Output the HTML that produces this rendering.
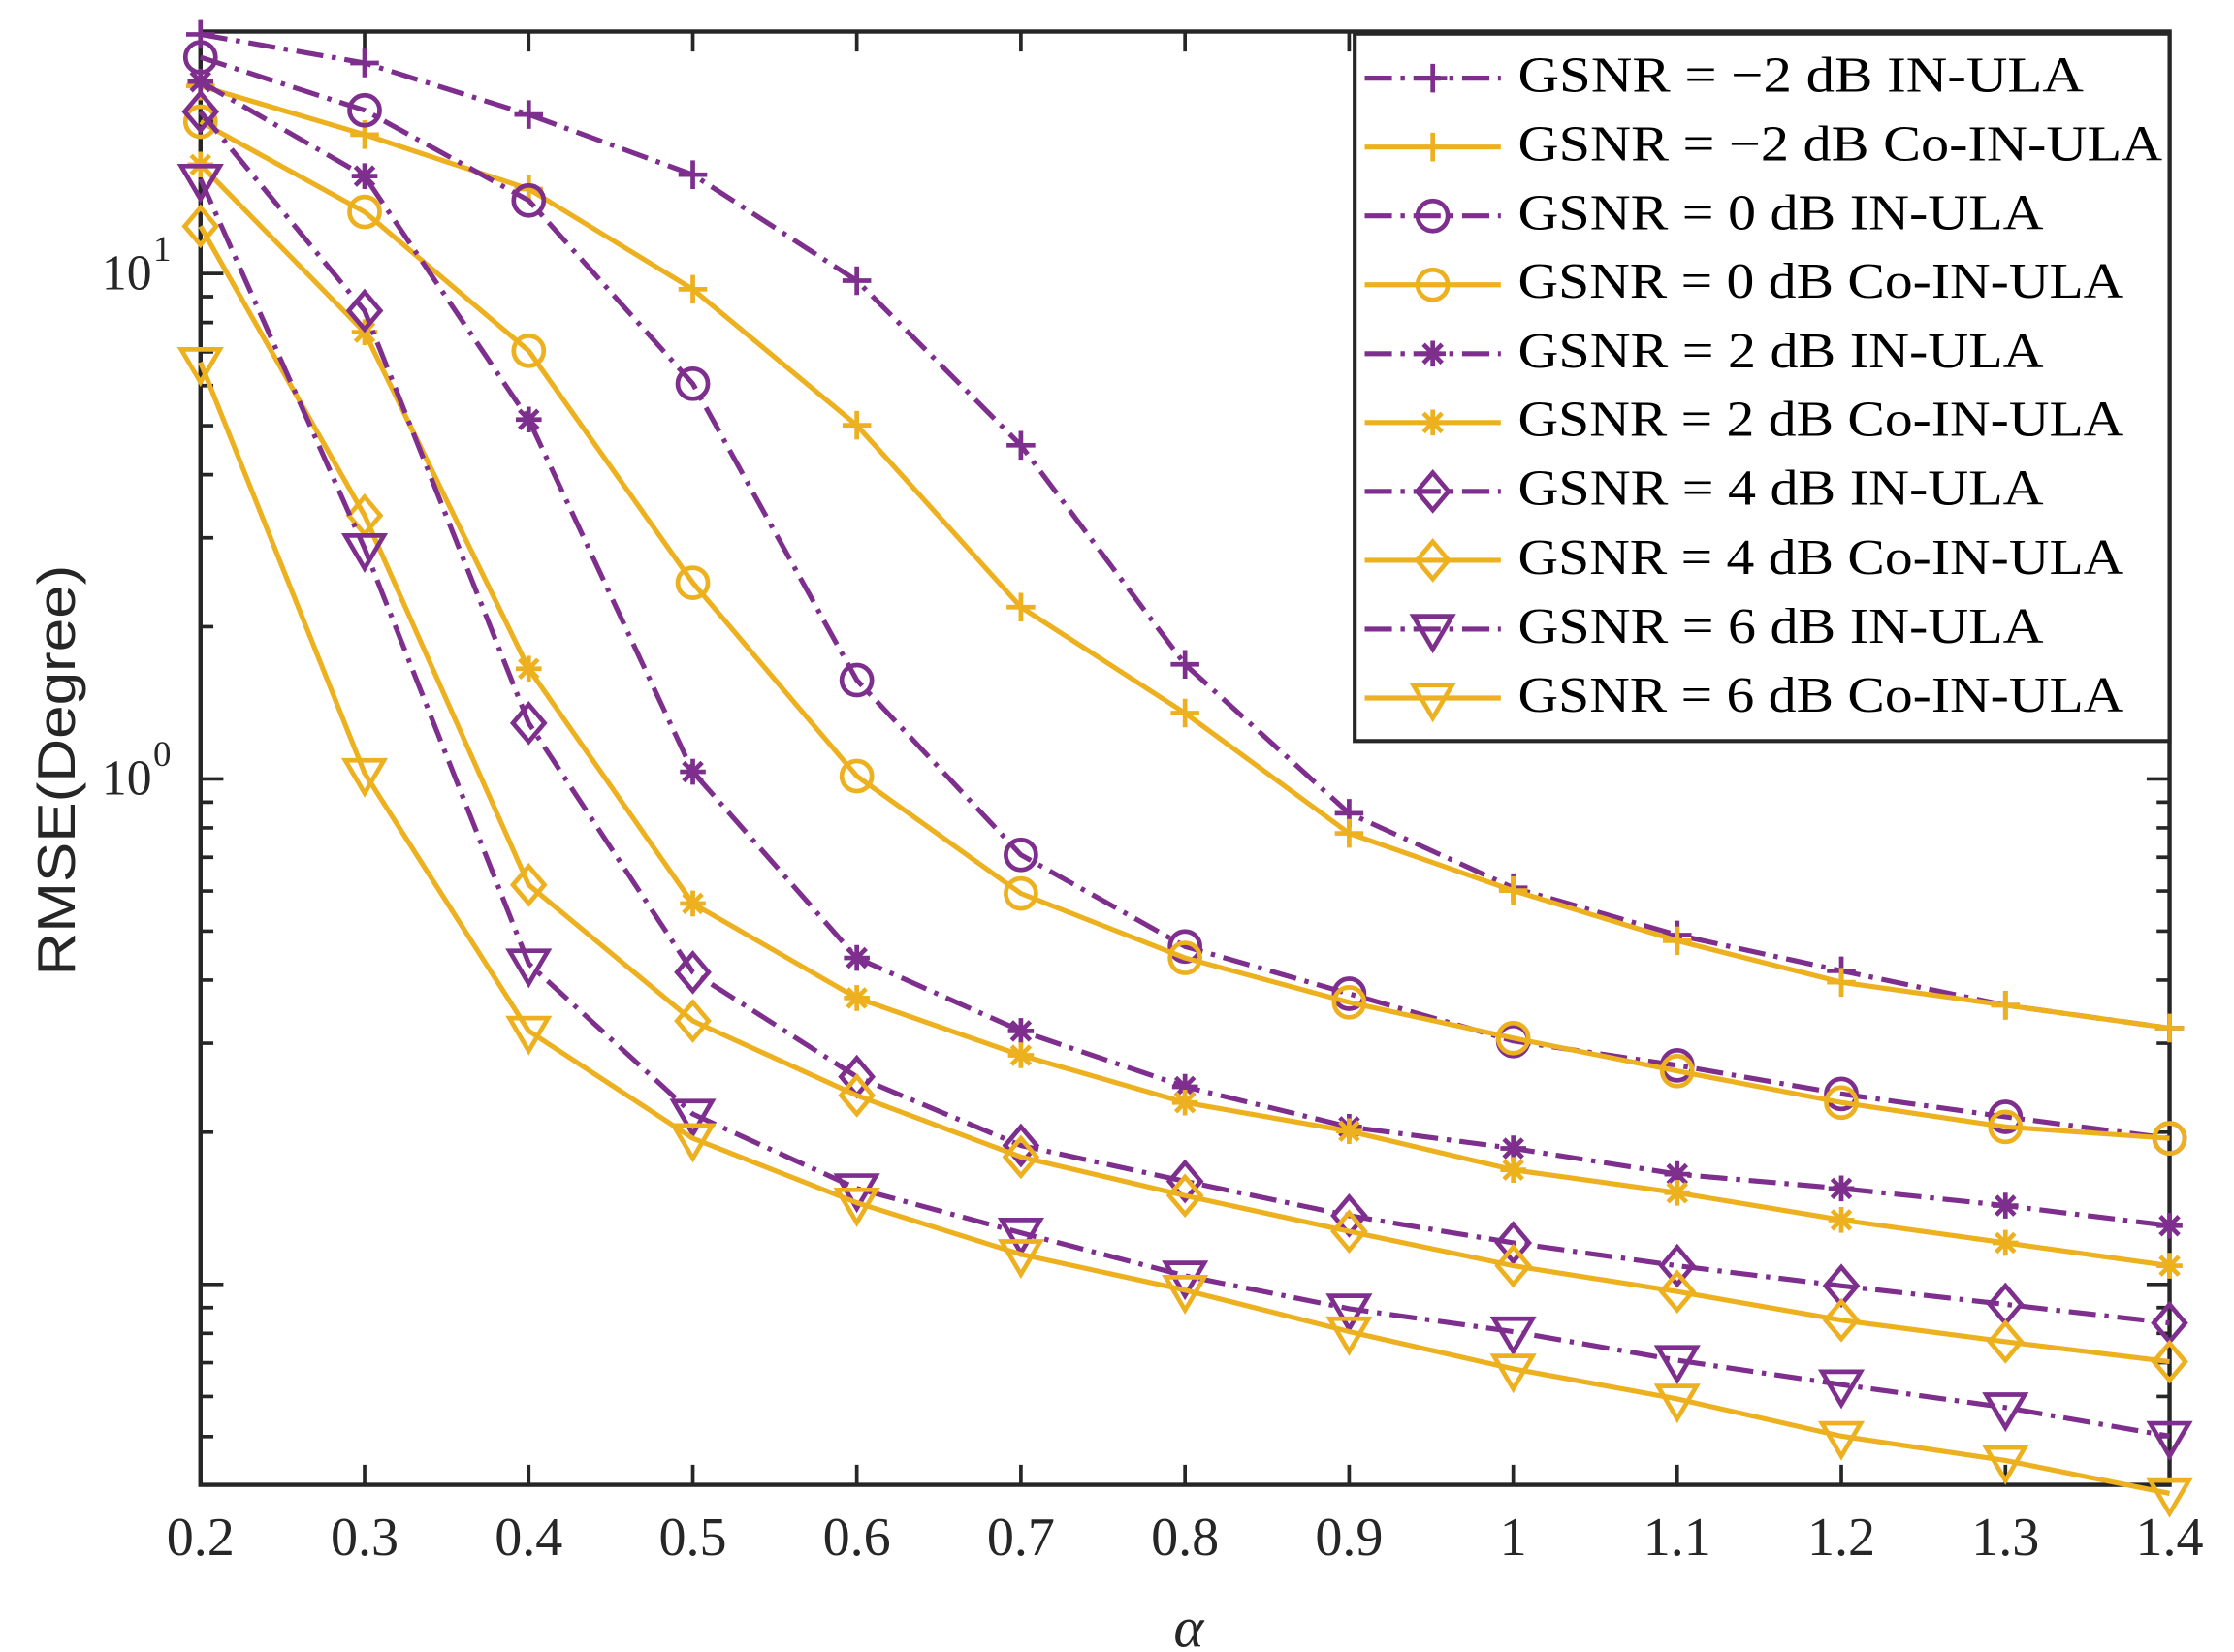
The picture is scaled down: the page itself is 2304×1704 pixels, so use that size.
<!DOCTYPE html>
<html><head><meta charset="utf-8"><style>html,body{margin:0;padding:0;background:#fff}svg{display:block}</style></head>
<body>
<svg xmlns="http://www.w3.org/2000/svg" width="2304" height="1704" viewBox="0 0 1560 1153.75">
<defs>
<marker id="pP" markerUnits="userSpaceOnUse" overflow="visible" refX="0" refY="0"><path d="M-10 0H10M0-10V10" stroke="#7E2F8E" stroke-width="3.2" fill="none"/></marker>
<marker id="pY" markerUnits="userSpaceOnUse" overflow="visible" refX="0" refY="0"><path d="M-10 0H10M0-10V10" stroke="#EDB120" stroke-width="3.2" fill="none"/></marker>
<marker id="cP" markerUnits="userSpaceOnUse" overflow="visible" refX="0" refY="0"><circle r="10.5" stroke="#7E2F8E" stroke-width="3.2" fill="none"/></marker>
<marker id="cY" markerUnits="userSpaceOnUse" overflow="visible" refX="0" refY="0"><circle r="10.5" stroke="#EDB120" stroke-width="3.2" fill="none"/></marker>
<marker id="sP" markerUnits="userSpaceOnUse" overflow="visible" refX="0" refY="0"><path d="M-9 0H9M0-9V9M-6.5-6.5L6.5 6.5M-6.5 6.5L6.5-6.5" stroke="#7E2F8E" stroke-width="3.2" fill="none"/></marker>
<marker id="sY" markerUnits="userSpaceOnUse" overflow="visible" refX="0" refY="0"><path d="M-9 0H9M0-9V9M-6.5-6.5L6.5 6.5M-6.5 6.5L6.5-6.5" stroke="#EDB120" stroke-width="3.2" fill="none"/></marker>
<marker id="dP" markerUnits="userSpaceOnUse" overflow="visible" refX="0" refY="0"><path d="M0-13L11 0L0 13L-11 0Z" stroke="#7E2F8E" stroke-width="3.2" fill="none"/></marker>
<marker id="dY" markerUnits="userSpaceOnUse" overflow="visible" refX="0" refY="0"><path d="M0-13L11 0L0 13L-11 0Z" stroke="#EDB120" stroke-width="3.2" fill="none"/></marker>
<marker id="tP" markerUnits="userSpaceOnUse" overflow="visible" refX="0" refY="0"><path d="M-13.5-9L13.5-9L0 14Z" stroke="#7E2F8E" stroke-width="3.2" fill="none"/></marker>
<marker id="tY" markerUnits="userSpaceOnUse" overflow="visible" refX="0" refY="0"><path d="M-13.5-9L13.5-9L0 14Z" stroke="#EDB120" stroke-width="3.2" fill="none"/></marker>
</defs>

<rect x="140" y="22" width="1375" height="1015" fill="none" stroke="#262626" stroke-width="3"/>
<g stroke="#262626" stroke-width="2.5">
<path d="M254.6 1037v-14M369.2 1037v-14M483.8 1037v-14M598.3 1037v-14M712.9 1037v-14M827.5 1037v-14M942.1 1037v-14M1056.7 1037v-14M1171.2 1037v-14M1285.8 1037v-14M1400.4 1037v-14
M254.6 22v14M369.2 22v14M483.8 22v14M598.3 22v14M712.9 22v14M827.5 22v14M942.1 22v14"/>
<path d="M140 191h16M140 544h16M140 897h16M1515 191h-16M1515 544h-16M1515 897h-16"/>
<path d="M140 1003.3h9M140 975.3h9M140 951.7h9M140 931.2h9M140 913.2h9M140 790.7h9M140 728.6h9M140 684.5h9M140 650.3h9M140 622.3h9M140 598.7h9M140 578.2h9M140 560.2h9M140 437.7h9M140 375.6h9M140 331.5h9M140 297.3h9M140 269.3h9M140 245.7h9M140 225.2h9M140 207.2h9M140 84.7h9
M1515 1003.3h-9M1515 975.3h-9M1515 951.7h-9M1515 931.2h-9M1515 913.2h-9M1515 790.7h-9M1515 728.6h-9M1515 684.5h-9M1515 650.3h-9M1515 622.3h-9M1515 598.7h-9M1515 578.2h-9M1515 560.2h-9M1515 437.7h-9M1515 375.6h-9M1515 331.5h-9M1515 297.3h-9M1515 269.3h-9M1515 245.7h-9M1515 225.2h-9M1515 207.2h-9M1515 84.7h-9"/>
</g>

<g font-family="'Liberation Serif', serif" font-size="38" fill="#262626" text-anchor="middle">
<text x="140" y="1086">0.2</text><text x="254.6" y="1086">0.3</text><text x="369.2" y="1086">0.4</text><text x="483.8" y="1086">0.5</text><text x="598.3" y="1086">0.6</text><text x="712.9" y="1086">0.7</text><text x="827.5" y="1086">0.8</text><text x="942.1" y="1086">0.9</text><text x="1056.7" y="1086">1</text><text x="1171.2" y="1086">1.1</text><text x="1285.8" y="1086">1.2</text><text x="1400.4" y="1086">1.3</text><text x="1515" y="1086">1.4</text>
</g>
<g font-family="'Liberation Serif', serif" fill="#262626">
<text x="71" y="202" font-size="35">10</text><text x="107" y="182" font-size="25">1</text>
<text x="71" y="555" font-size="35">10</text><text x="107" y="535" font-size="25">0</text>
</g>
<text x="830" y="1150" font-family="'Liberation Serif', serif" font-style="italic" font-size="40" fill="#262626" text-anchor="middle">α</text>
<text transform="translate(52,538) rotate(-90)" font-family="'Liberation Sans', sans-serif" font-size="37" fill="#262626" text-anchor="middle" textLength="287" lengthAdjust="spacingAndGlyphs">RMSE(Degree)</text>

<g fill="none" stroke-width="3.5" stroke-linejoin="round">
<polyline stroke="#7E2F8E" stroke-dasharray="19 6 3 6" marker-start="url(#pP)" marker-mid="url(#pP)" marker-end="url(#pP)" points="140,24 254.6,44 369.2,80 483.8,122 598.3,196 712.9,311 827.5,464 942.1,568 1056.7,620 1171.2,653 1285.8,678 1400.4,702 1515,718"/>
<polyline stroke="#EDB120" marker-start="url(#pY)" marker-mid="url(#pY)" marker-end="url(#pY)" points="140,60 254.6,94 369.2,132 483.8,202 598.3,297 712.9,424 827.5,498 942.1,582 1056.7,622 1171.2,657 1285.8,686 1400.4,702 1515,718"/>
<polyline stroke="#7E2F8E" stroke-dasharray="19 6 3 6" marker-start="url(#cP)" marker-mid="url(#cP)" marker-end="url(#cP)" points="140,40 254.6,77 369.2,140 483.8,268 598.3,475 712.9,597 827.5,661 942.1,694 1056.7,727 1171.2,744 1285.8,764 1400.4,780 1515,795"/>
<polyline stroke="#EDB120" marker-start="url(#cY)" marker-mid="url(#cY)" marker-end="url(#cY)" points="140,85 254.6,148 369.2,245 483.8,407 598.3,542 712.9,624 827.5,669 942.1,700 1056.7,725 1171.2,748 1285.8,770 1400.4,787 1515,795"/>
<polyline stroke="#7E2F8E" stroke-dasharray="19 6 3 6" marker-start="url(#sP)" marker-mid="url(#sP)" marker-end="url(#sP)" points="140,57 254.6,123 369.2,293 483.8,539 598.3,669 712.9,720 827.5,759 942.1,787 1056.7,802 1171.2,820 1285.8,830 1400.4,842 1515,856"/>
<polyline stroke="#EDB120" marker-start="url(#sY)" marker-mid="url(#sY)" marker-end="url(#sY)" points="140,115 254.6,232 369.2,467 483.8,631 598.3,697 712.9,737 827.5,770 942.1,790 1056.7,817 1171.2,833 1285.8,852 1400.4,868 1515,884"/>
<polyline stroke="#7E2F8E" stroke-dasharray="19 6 3 6" marker-start="url(#dP)" marker-mid="url(#dP)" marker-end="url(#dP)" points="140,78 254.6,217 369.2,505 483.8,679 598.3,752 712.9,800 827.5,825 942.1,849 1056.7,868 1171.2,884 1285.8,898 1400.4,911 1515,924"/>
<polyline stroke="#EDB120" marker-start="url(#dY)" marker-mid="url(#dY)" marker-end="url(#dY)" points="140,158 254.6,360 369.2,618 483.8,713 598.3,765 712.9,808 827.5,835 942.1,860 1056.7,884 1171.2,902 1285.8,922 1400.4,937 1515,951"/>
<polyline stroke="#7E2F8E" stroke-dasharray="19 6 3 6" marker-start="url(#tP)" marker-mid="url(#tP)" marker-end="url(#tP)" points="140,125 254.6,383 369.2,673 483.8,778 598.3,830 712.9,861 827.5,891 942.1,914 1056.7,930 1171.2,950 1285.8,967 1400.4,983 1515,1003"/>
<polyline stroke="#EDB120" marker-start="url(#tY)" marker-mid="url(#tY)" marker-end="url(#tY)" points="140,253 254.6,540 369.2,720 483.8,795 598.3,840 712.9,876 827.5,901 942.1,930 1056.7,956 1171.2,977 1285.8,1003 1400.4,1020 1515,1043"/>
</g>

<rect x="946" y="23.5" width="569" height="494" fill="#fff" stroke="#262626" stroke-width="2.8"/>
<g fill="none" stroke-width="3.5">
<polyline stroke="#7E2F8E" stroke-dasharray="19 6 3 6" marker-mid="url(#pP)" points="953,54.6 1000.5,54.6 1048,54.6"/>
<polyline stroke="#EDB120" marker-mid="url(#pY)" points="953,102.7 1000.5,102.7 1048,102.7"/>
<polyline stroke="#7E2F8E" stroke-dasharray="19 6 3 6" marker-mid="url(#cP)" points="953,150.8 1000.5,150.8 1048,150.8"/>
<polyline stroke="#EDB120" marker-mid="url(#cY)" points="953,198.9 1000.5,198.9 1048,198.9"/>
<polyline stroke="#7E2F8E" stroke-dasharray="19 6 3 6" marker-mid="url(#sP)" points="953,247 1000.5,247 1048,247"/>
<polyline stroke="#EDB120" marker-mid="url(#sY)" points="953,295.1 1000.5,295.1 1048,295.1"/>
<polyline stroke="#7E2F8E" stroke-dasharray="19 6 3 6" marker-mid="url(#dP)" points="953,343.2 1000.5,343.2 1048,343.2"/>
<polyline stroke="#EDB120" marker-mid="url(#dY)" points="953,391.3 1000.5,391.3 1048,391.3"/>
<polyline stroke="#7E2F8E" stroke-dasharray="19 6 3 6" marker-mid="url(#tP)" points="953,439.4 1000.5,439.4 1048,439.4"/>
<polyline stroke="#EDB120" marker-mid="url(#tY)" points="953,487.5 1000.5,487.5 1048,487.5"/>
</g>
<g font-family="'Liberation Serif', serif" font-size="35" fill="#000">
<text x="1060" y="64" textLength="395" lengthAdjust="spacingAndGlyphs">GSNR = −2 dB IN-ULA</text>
<text x="1060" y="112" textLength="450" lengthAdjust="spacingAndGlyphs">GSNR = −2 dB Co-IN-ULA</text>
<text x="1060" y="160" textLength="367" lengthAdjust="spacingAndGlyphs">GSNR = 0 dB IN-ULA</text>
<text x="1060" y="208" textLength="423" lengthAdjust="spacingAndGlyphs">GSNR = 0 dB Co-IN-ULA</text>
<text x="1060" y="256.5" textLength="367" lengthAdjust="spacingAndGlyphs">GSNR = 2 dB IN-ULA</text>
<text x="1060" y="304.5" textLength="423" lengthAdjust="spacingAndGlyphs">GSNR = 2 dB Co-IN-ULA</text>
<text x="1060" y="352.5" textLength="367" lengthAdjust="spacingAndGlyphs">GSNR = 4 dB IN-ULA</text>
<text x="1060" y="401" textLength="423" lengthAdjust="spacingAndGlyphs">GSNR = 4 dB Co-IN-ULA</text>
<text x="1060" y="449" textLength="367" lengthAdjust="spacingAndGlyphs">GSNR = 6 dB IN-ULA</text>
<text x="1060" y="497" textLength="423" lengthAdjust="spacingAndGlyphs">GSNR = 6 dB Co-IN-ULA</text>
</g>
</svg>
</body></html>
